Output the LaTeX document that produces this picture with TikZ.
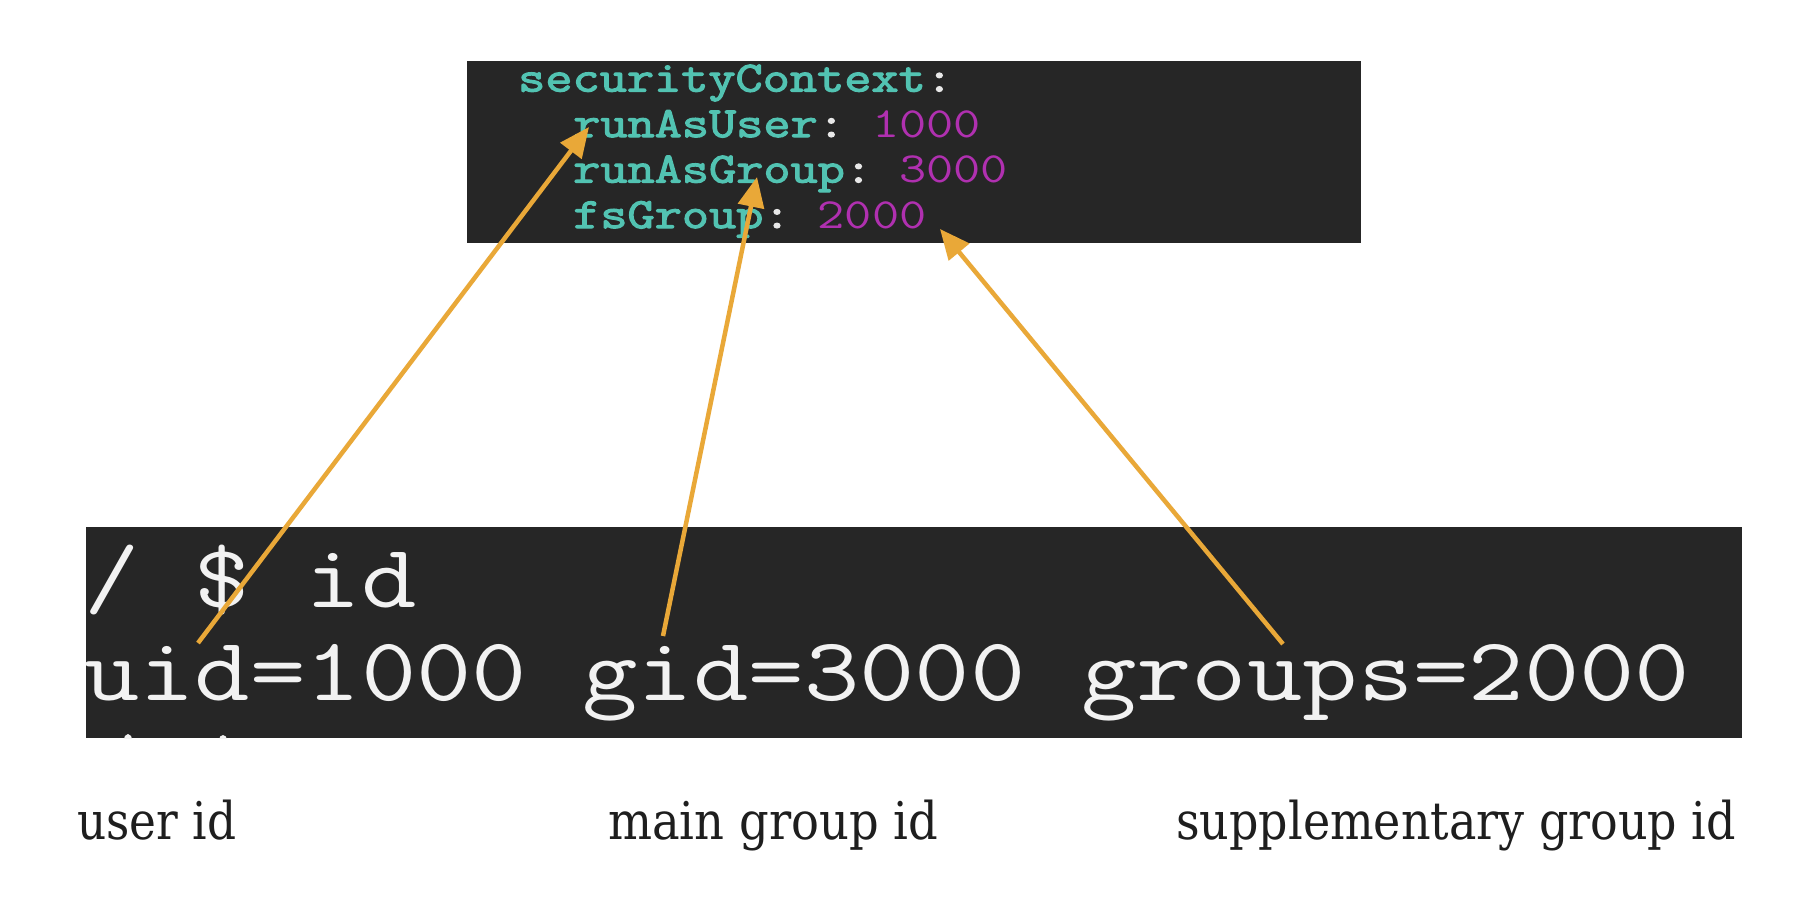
\documentclass[tikz,border=0pt]{standalone}
\usepackage{fontspec}
\usepackage{graphicx}
\setmainfont{DejaVu Serif}
\newfontfamily\termmono[FakeStretch=1.195]{Latin Modern Mono}
\newfontfamily\yamlmono[FakeStretch=1.227]{Latin Modern Mono}
\newfontfamily\yamlmonob[FakeStretch=1.227,FakeBold=2.8]{Latin Modern Mono}
\usetikzlibrary{arrows.meta}
\definecolor{codebg}{HTML}{262626}
\definecolor{keyteal}{HTML}{52C3B2}
\definecolor{valmag}{HTML}{B030B0}
\definecolor{colonw}{HTML}{E8E8E8}
\definecolor{termw}{HTML}{F2F2F2}
\definecolor{arrowor}{HTML}{E9A838}
\definecolor{labelc}{HTML}{1E1E1E}
\newcommand{\yamlfont}{\yamlmono\fontsize{43}{43}\selectfont}
\newcommand{\termfont}{\termmono\fontsize{90}{90}\selectfont}
\newcommand{\lblfont}{\fontsize{52}{52}\selectfont}
\newcommand{\kk}[1]{{\color{keyteal}\yamlmonob #1}}
\newcommand{\vv}[1]{{\color{valmag}#1}}
\newcommand{\cc}{{\color{colonw}\yamlmonob :}}
\begin{document}
\begin{tikzpicture}[x=1pt,y=-1pt,
  codebox/.style={fill=codebg,draw=none,inner sep=0pt,anchor=north west},
  yamlline/.style={anchor=base west,inner sep=0pt,font=\yamlfont},
  termline/.style={anchor=base west,inner sep=0pt,font=\termfont,text=termw},
  lbl/.style={anchor=base west,inner sep=0pt,font=\lblfont,text=labelc},
  glyphtip/.style={fill=termw,draw=none},
  arr/.style={draw=arrowor,line width=4.5pt,-{Triangle[length=30pt,width=26pt]}}]
\useasboundingbox (0,0) rectangle (1802,914);
\fill[white] (0,0) rectangle (1802,914);
% boxes
\node[codebox,minimum width=894pt,minimum height=182pt] (yaml) at (467,61) {};
\node[codebox,minimum width=1656pt,minimum height=211pt] (term) at (86,527) {};
% yaml text
\node[yamlline] (l1) at (518,91.5) {\kk{securityContext}\cc};
\node[yamlline] (l2) at (573,137) {\kk{runAsUser}\cc\ \vv{1000}};
\node[yamlline] (l3) at (573,182.5) {\kk{runAsGroup}\cc\ \vv{3000}};
\node[yamlline] (l4) at (573,228) {\kk{fsGroup}\cc\ \vv{2000}};
% terminal text
\node[termline] (t1) at (84,607) {/ \$ id};
\node[termline] (t2) at (84,700) {uid=1000 gid=3000 groups=2000};
% cut-off tops of the next line's glyphs
\begin{scope}
\clip (86,527) rectangle (1742,738);
\fill[glyphtip] (128,740) ellipse (4pt and 6pt);
\fill[glyphtip] (223,740) ellipse (4pt and 5pt);
\end{scope}
% labels
\node[lbl] (u) at (77,839) {\resizebox{159pt}{\height}{user id}};
\node[lbl] (m) at (608,839) {\resizebox{330pt}{\height}{main group id}};
\node[lbl] (s) at (1176,839) {\resizebox{560pt}{\height}{supplementary group id}};
% arrows
\coordinate (a1s) at (198,643);
\coordinate (a1e) at (589,127);
\coordinate (a2s) at (663,636);
\coordinate (a2e) at (757,177);
\coordinate (a3s) at (1283,644);
\coordinate (a3e) at (940,229);
\draw[arr] (a1s) -- (a1e);
\draw[arr] (a2s) -- (a2e);
\draw[arr] (a3s) -- (a3e);
\end{tikzpicture}
\end{document}
